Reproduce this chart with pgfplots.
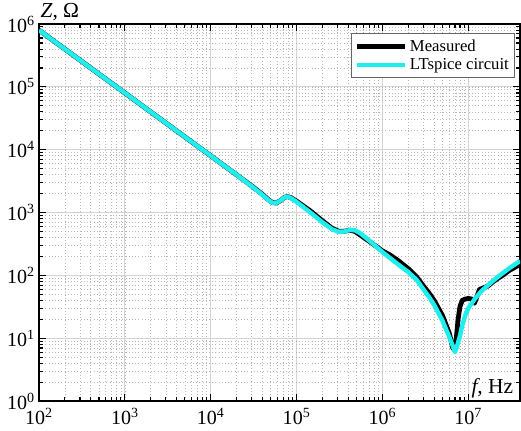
\documentclass[border=0pt]{standalone}
\usepackage{fontspec}
\setmainfont{Liberation Serif}
\usepackage{pgfplots}
\pgfplotsset{compat=1.18}
\usetikzlibrary{calc}
\definecolor{lcyan}{RGB}{30,238,238}
\begin{document}
\begin{tikzpicture}
\begin{axis}[
  scale only axis, width=360pt, height=282.2pt,
  clip mode=individual,
  xmode=log, ymode=log,
  xmin=100, xmax=4e7, ymin=1, ymax=1e6,
  xtick={1e2,1e3,1e4,1e5,1e6,1e7},
  xticklabels={10\textsuperscript{2},10\textsuperscript{3},10\textsuperscript{4},10\textsuperscript{5},10\textsuperscript{6},10\textsuperscript{7}},
  ytick={1,10,100,1000,1e4,1e5,1e6},
  yticklabels={10\textsuperscript{0},10\textsuperscript{1},10\textsuperscript{2},10\textsuperscript{3},10\textsuperscript{4},10\textsuperscript{5},10\textsuperscript{6}},
  ticklabel style={font=\fontsize{15}{17}\selectfont},
  xticklabel style={inner sep=0pt, yshift=-5.5pt},
  yticklabel style={inner sep=1pt, xshift=-2pt},
  tick align=inside,
  major tick length=5pt, minor tick length=3pt,
  every tick/.style={black, line width=0.8pt},
  grid=both,
  major grid style={black!17, line width=0.9pt},
  minor grid style={black!28, dotted, line width=0.5pt},
  axis line style={line width=1.3pt},
  legend style={at={(0.99,0.976)}, anchor=north east, draw=black!60, line width=0.6pt,
    font=\fontsize{12.5}{14}\selectfont, inner sep=2.5pt, row sep=0pt},
  legend cell align=left,
  legend image code/.code={\draw[#1] (0cm,0cm) -- (1.25cm,0cm);},
]
\addplot[black, line width=3.6pt, line join=round] coordinates {
(100,8.0e5) (200,4.0e5) (500,1.6e5) (1e3,8.0e4) (2e3,4.0e4) (5e3,1.6e4) (1e4,8.0e3)
(2e4,4.0e3) (3e4,2.65e3) (4e4,1.95e3) (4.7e4,1.6e3) (5.2e4,1.45e3) (5.8e4,1.42e3)
(6.5e4,1.55e3) (7.2e4,1.74e3) (7.8e4,1.8e3) (8.6e4,1.72e3) (1e5,1.52e3) (1.45e5,1.06e3)
(2e5,740) (2.6e5,560) (3.1e5,505) (3.6e5,505) (4.2e5,525) (4.8e5,500) (5.5e5,440)
(7e5,350) (1e6,245) (1.2e6,215) (1.5e6,175) (2e6,128) (2.5e6,95) (3e6,68) (3.5e6,52)
(4e6,40) (5e6,23) (6e6,12) (6.6e6,7) (6.9e6,6.5) (7.2e6,9) (7.6e6,20) (8.0e6,32)
(8.5e6,40) (9.2e6,42) (1e7,43) (1.1e7,42) (1.18e7,36) (1.25e7,45) (1.35e7,60)
(1.5e7,63) (1.7e7,68) (2e7,82) (2.5e7,100) (3e7,120) (3.5e7,135) (4e7,150)
};
\addlegendentry{Measured}
\addplot[lcyan, line width=3.3pt, line join=round] coordinates {
(100,8.0e5) (200,4.0e5) (500,1.6e5) (1e3,8.0e4) (2e3,4.0e4) (5e3,1.6e4) (1e4,8.0e3)
(2e4,4.0e3) (3e4,2.62e3) (4e4,1.92e3) (4.7e4,1.58e3) (5.2e4,1.44e3) (5.8e4,1.42e3)
(6.5e4,1.55e3) (7.2e4,1.74e3) (7.8e4,1.8e3) (8.6e4,1.7e3) (1e5,1.48e3) (1.45e5,1.0e3)
(2e5,700) (2.6e5,540) (3.1e5,495) (3.6e5,500) (4.2e5,530) (4.8e5,520) (5.5e5,470)
(7e5,360) (1e6,235) (1.5e6,152) (2e6,113) (2.5e6,85) (3e6,60) (3.5e6,45) (4e6,34)
(5e6,19) (6e6,10.5) (6.6e6,7.5) (7e6,6) (7.4e6,7.5) (8e6,11) (8.5e6,16) (9.2e6,23)
(1e7,30) (1.2e7,43) (1.4e7,55) (1.6e7,65) (2e7,85) (2.5e7,108) (3e7,130) (3.5e7,150) (4e7,170)
};
\addlegendentry{LTspice circuit}
\coordinate (bl) at (rel axis cs:0,0);
\coordinate (tr) at (rel axis cs:1,1);
\node[anchor=south west, inner sep=1pt, yshift=1.5pt, font=\fontsize{16}{18}\selectfont] at (rel axis cs:0,1) {\textit{Z}, Ω};
\node[anchor=south east, inner sep=2pt, xshift=-3pt, font=\fontsize{16}{18}\selectfont] at (rel axis cs:1,0) {\textit{f}, Hz};
\end{axis}
\pgfresetboundingbox
\path[use as bounding box] ($(bl)+(-29.2pt,-21.7pt)$) rectangle ($(tr)+(0.75pt,18pt)$);
\end{tikzpicture}
\end{document}
